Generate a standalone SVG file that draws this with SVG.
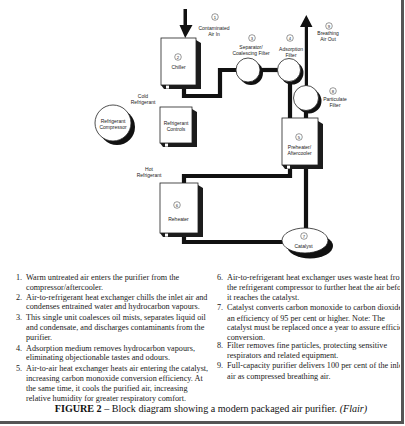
<svg xmlns="http://www.w3.org/2000/svg" width="405" height="426" viewBox="0 0 405 426">
<defs>
<style>
.pipe{fill:none;stroke:#111;stroke-width:4.2;stroke-linejoin:miter}
.front{fill:#fff;stroke:#222;stroke-width:0.8}
.shade{fill:#1c1c1c}
.notch{fill:#fff}
.disc{fill:#fff;stroke:#222;stroke-width:0.8}
.shadow{fill:#111}
.num{fill:none;stroke:#333;stroke-width:0.5}
.lbl{font-family:"Liberation Sans",Arial,sans-serif;font-size:5px;fill:#222;text-anchor:middle}
.nt{font-family:"Liberation Sans",Arial,sans-serif;font-size:4.2px;fill:#222;text-anchor:middle}
.body{font-family:"Liberation Serif","Times New Roman",serif;font-size:8.2px;fill:#1a1a1a}
.cap{font-family:"Liberation Serif","Times New Roman",serif;font-size:10.1px;fill:#111}
</style>
<clipPath id="page"><rect x="0" y="0" width="400" height="420"/></clipPath>
</defs>
<rect x="0" y="0" width="405" height="426" fill="#fff"/>

<g id="connectors">
<path class="pipe" d="M184,80 V96 H220 V70 H238"/>
<path class="pipe" d="M258,70 H278"/>
<path class="pipe" d="M290,78 V122"/>
<path class="pipe" d="M306,106 V122"/>
<path class="pipe" d="M290,160 V176 H184 V242 H284"/>
<path class="pipe" d="M306,160 V230"/>
<path fill="#111" d="M183.5,9 H187 V25 H192.5 L185.2,38 L179.5,25 H183.5 Z"/>
<path fill="#111" d="M304.8,88 V27 H300 L306.3,15 L312.5,27 H308 V88 Z"/>
</g>

<g id="chiller">
<path class="shade" d="M196,40 L201,43 L201,89 L164,89 L161,85 L196,85 Z"/>
<rect class="front" x="161" y="38" width="35" height="47"/>
<rect class="notch" x="166" y="85.6" width="3" height="3"/>
<circle class="num" cx="178" cy="57" r="3.3"/><text class="nt" x="178" y="58.5">2</text>
<text class="lbl" x="178.5" y="69">Chiller</text>
</g>

<g id="separator">
<circle class="shadow" cx="251" cy="73" r="12"/>
<circle class="disc" cx="248" cy="70" r="12"/>
<circle class="num" cx="252" cy="38" r="3.3"/><text class="nt" x="252" y="39.5">3</text>
<text class="lbl" x="251" y="49">Separator/</text>
<text class="lbl" x="251" y="55">Coalescing Filter</text>
</g>

<g id="adsorption">
<circle class="shadow" cx="292" cy="73" r="11.5"/>
<circle class="disc" cx="289" cy="70" r="11.5"/>
<circle class="num" cx="290" cy="38" r="3.3"/><text class="nt" x="290" y="39.5">4</text>
<text class="lbl" x="291" y="51">Adsorption</text>
<text class="lbl" x="291" y="57">Filter</text>
</g>

<g id="breathing-air-out">
<circle class="num" cx="329" cy="26" r="3.3"/><text class="nt" x="329" y="27.5">9</text>
<text class="lbl" x="328" y="35">Breathing</text>
<text class="lbl" x="328" y="41">Air Out</text>
</g>

<g id="contaminated-air-in">
<circle class="num" cx="215" cy="17" r="3.3"/><text class="nt" x="215" y="18.5">1</text>
<text class="lbl" x="214" y="30">Contaminated</text>
<text class="lbl" x="214" y="35.5">Air In</text>
</g>

<g id="particulate">
<circle class="shadow" cx="309" cy="101" r="12.5"/>
<circle class="disc" cx="306" cy="98" r="12.5"/>
<circle class="num" cx="333" cy="91" r="3.3"/><text class="nt" x="333" y="92.5">8</text>
<text class="lbl" x="335" y="101">Particulate</text>
<text class="lbl" x="335" y="106.5">Filter</text>
</g>

<g id="preheater">
<path class="shade" d="M318,121 L323,124 L323,169 L285,169 L282,165 L318,165 Z"/>
<rect class="front" x="282" y="118" width="36" height="47"/>
<rect class="notch" x="287" y="165.6" width="3" height="3"/>
<circle class="num" cx="299" cy="137" r="3.3"/><text class="nt" x="299" y="138.5">5</text>
<text class="lbl" x="299.5" y="149">Preheater/</text>
<text class="lbl" x="299.5" y="155">Aftercooler</text>
</g>

<g id="cold-refrigerant">
<text class="lbl" x="143" y="98">Cold</text>
<text class="lbl" x="143" y="103.5">Refrigerant</text>
</g>

<g id="compressor">
<circle class="shadow" cx="117" cy="127" r="18"/>
<circle class="disc" cx="113" cy="123" r="18"/>
<text class="lbl" x="113" y="122.5">Refrigerant</text>
<text class="lbl" x="113" y="128.5">Compressor</text>
</g>

<g id="controls">
<path class="shade" d="M192,109 L197,112 L197,147 L163,147 L160,143 L192,143 Z"/>
<rect class="front" x="160" y="107" width="32" height="36"/>
<rect class="notch" x="165" y="143.6" width="3" height="3"/>
<text class="lbl" x="176" y="125">Refrigerant</text>
<text class="lbl" x="176" y="130.5">Controls</text>
</g>

<g id="hot-refrigerant">
<text class="lbl" x="149" y="171">Hot</text>
<text class="lbl" x="149" y="176.5">Refrigerant</text>
</g>

<g id="reheater">
<path class="shade" d="M198,185 L203,188 L203,237 L163,237 L160,233 L198,233 Z"/>
<rect class="front" x="160" y="183" width="38" height="50"/>
<rect class="notch" x="165" y="233.6" width="3" height="3"/>
<circle class="num" cx="177" cy="205" r="3.3"/><text class="nt" x="177" y="206.5">6</text>
<text class="lbl" x="178.5" y="221">Reheater</text>
</g>

<g id="catalyst">
<ellipse class="shadow" cx="310" cy="246" rx="23" ry="12.5"/>
<ellipse class="disc" cx="305" cy="240.5" rx="23" ry="12.5"/>
<circle class="num" cx="304" cy="236" r="3.3"/><text class="nt" x="304" y="237.5">7</text>
<text class="lbl" x="303.5" y="248">Catalyst</text>
</g>

<g id="notes" class="body" clip-path="url(#page)">
<text x="16" y="280">1.</text><text x="26" y="280">Warm untreated air enters the purifier from the</text>
<text x="26" y="290">compressor/aftercooler.</text>
<text x="16" y="300">2.</text><text x="26" y="300">Air-to-refrigerant heat exchanger chills the inlet air and</text>
<text x="26" y="309">condenses entrained water and hydrocarbon vapours.</text>
<text x="16" y="320">3.</text><text x="26" y="320">This single unit coalesces oil mists, separates liquid oil</text>
<text x="26" y="330">and condensate, and discharges contaminants from the</text>
<text x="26" y="340">purifier.</text>
<text x="16" y="351">4.</text><text x="26" y="351">Adsorption medium removes hydrocarbon vapours,</text>
<text x="26" y="360">eliminating objectionable tastes and odours.</text>
<text x="16" y="371">5.</text><text x="26" y="371">Air-to-air heat exchanger heats air entering the catalyst,</text>
<text x="26" y="381">increasing carbon monoxide conversion efficiency. At</text>
<text x="26" y="391">the same time, it cools the purified air, increasing</text>
<text x="26" y="401">relative humidity for greater respiratory comfort.</text>

<text x="217" y="280">6.</text><text x="227" y="280">Air-to-refrigerant heat exchanger uses waste heat fro</text>
<text x="227" y="290">the refrigerant compressor to further heat the air befo</text>
<text x="227" y="300">it reaches the catalyst.</text>
<text x="217" y="310">7.</text><text x="227" y="310">Catalyst converts carbon monoxide to carbon dioxide</text>
<text x="227" y="321">an efficiency of 95 per cent or higher. Note: The</text>
<text x="227" y="330">catalyst must be replaced once a year to assure efficie</text>
<text x="227" y="340">conversion.</text>
<text x="217" y="348">8.</text><text x="227" y="348">Filter removes fine particles, protecting sensitive</text>
<text x="227" y="358">respirators and related equipment.</text>
<text x="217" y="368">9.</text><text x="227" y="368">Full-capacity purifier delivers 100 per cent of the inle</text>
<text x="227" y="379">air as compressed breathing air.</text>
</g>

<g id="caption">
<text class="cap" x="211" y="412" text-anchor="middle"><tspan font-weight="bold">FIGURE 2</tspan> – Block diagram showing a modern packaged air purifier. <tspan font-style="italic">(Flair)</tspan></text>
</g>

<g id="frame">
<rect x="401" y="0" width="3" height="424" fill="#555"/>
<rect x="0" y="421" width="404" height="3" fill="#555"/>
</g>
</svg>
